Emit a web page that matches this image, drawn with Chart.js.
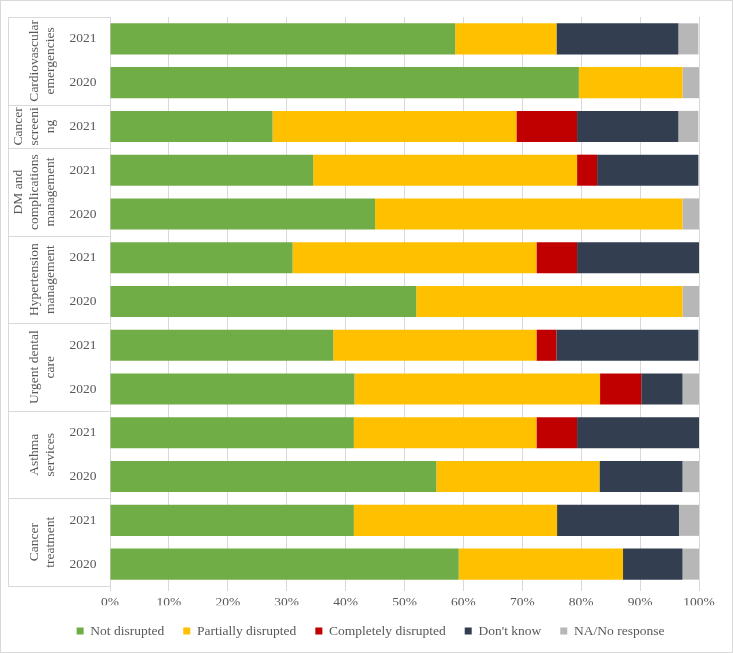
<!DOCTYPE html>
<html>
<head>
<meta charset="utf-8">
<script src="https://cdn.jsdelivr.net/npm/chart.js@4.4.1/dist/chart.umd.min.js"></script>
<style>
html,body{margin:0;padding:0;background:#fff;}
#wrap{width:733px;height:653px;}
</style>
</head>
<body>
<div id="wrap"><canvas id="c" width="733" height="653"></canvas></div>
<script>
// ---- data ----
const groupLabels = [
  ['Cardiovascular','emergencies'],
  ['Cancer','screeni','ng'],
  ['DM and','complications','management'],
  ['Hypertension','management'],
  ['Urgent dental','care'],
  ['Asthma','services'],
  ['Cancer','treatment']
];
const groupSizes = [2,1,2,2,2,2,2];
const years = ['2021','2020','2021','2021','2020','2021','2020','2021','2020','2021','2020','2021','2020'];
const seriesNames = ['Not disrupted','Partially disrupted','Completely disrupted',"Don't know",'NA/No response'];
const notDisrupted = [58.6, 79.6, 27.6, 34.5, 45.0, 31.0, 52.0, 37.9, 41.5, 41.4, 55.4, 41.4, 59.2];
const partiallyDisrupted = [17.2, 17.6, 41.4, 44.8, 52.2, 41.4, 45.2, 34.5, 41.7, 31.0, 27.7, 34.5, 27.9];
const completelyDisrupted = [0, 0, 10.3, 3.4, 0, 6.9, 0, 3.4, 7.0, 6.9, 0, 0, 0];
const dontKnow = [20.7, 0, 17.2, 17.2, 0, 20.7, 0, 24.1, 7.0, 20.7, 14.1, 20.7, 10.1];
const naNoResponse = [3.4, 2.8, 3.4, 0, 2.8, 0, 2.8, 0, 2.8, 0, 2.8, 3.4, 2.8];
const xTicks = [0,10,20,30,40,50,60,70,80,90,100];
const colors = ['#70AD47','#FFC000','#C00000','#333F50','#B7B7B7'];

const FONT = '"Liberation Serif", "Times New Roman", serif';
const TXT = '#595959';
const GRID = '#D9D9D9';

const tablePlugin = {
  id: 'tablePlugin',
  afterDraw(chart) {
    const ctx = chart.ctx;
    const y = chart.scales.y;
    const ca = chart.chartArea;
    const left = 8, right = ca.left;
    ctx.save();
    // outer border
    ctx.strokeStyle = GRID;
    ctx.lineWidth = 1;
    ctx.strokeRect(0.5, 0.5, 732, 652);
    // table lines
    ctx.beginPath();
    ctx.moveTo(left + 0.5, ca.top);
    ctx.lineTo(left + 0.5, ca.bottom);
    const hline = yy => { const p = Math.round(yy) + 0.5; ctx.moveTo(left, p); ctx.lineTo(right, p); };
    hline(ca.top);
    hline(ca.bottom);
    let idx = 0;
    const centers = [];
    groupSizes.forEach((n, g) => {
      const first = idx, last = idx + n - 1;
      centers.push((y.getPixelForValue(first) + y.getPixelForValue(last)) / 2);
      if (last < years.length - 1) {
        hline((y.getPixelForValue(last) + y.getPixelForValue(last + 1)) / 2);
      }
      idx += n;
    });
    ctx.stroke();
    // years
    ctx.fillStyle = TXT;
    ctx.font = '13.5px ' + FONT;
    ctx.textAlign = 'center';
    ctx.textBaseline = 'middle';
    years.forEach((yr, i) => ctx.fillText(yr, 83, y.getPixelForValue(i)));
    // group labels rotated
    groupLabels.forEach((lines, g) => {
      const n = lines.length;
      lines.forEach((ln, i) => {
        const lx = 50 - (n - 1 - i) * 16;
        ctx.save();
        ctx.translate(lx, centers[g]);
        ctx.rotate(-Math.PI / 2);
        ctx.fillText(ln, 0, 0);
        ctx.restore();
      });
    });
    ctx.restore();
  }
};

const dataArrays = [notDisrupted, partiallyDisrupted, completelyDisrupted, dontKnow, naNoResponse];

new Chart(document.getElementById('c'), {
  type: 'bar',
  data: {
    labels: years.map((y, i) => i),
    datasets: dataArrays.map((arr, i) => ({
      label: seriesNames[i],
      data: arr,
      backgroundColor: colors[i],
      borderWidth: 0,
      barPercentage: 0.71,
      categoryPercentage: 1.0
    }))
  },
  options: {
    indexAxis: 'y',
    responsive: false,
    animation: false,
    layout: { padding: { top: 17, left: 8, right: 0, bottom: 5.25 } },
    plugins: {
      tooltip: { enabled: false },
      legend: {
        position: 'bottom',
        labels: {
          boxWidth: 7,
          boxHeight: 7,
          padding: 19,
          color: TXT,
          font: { family: FONT, size: 13.5 }
        }
      }
    },
    scales: {
      x: {
        stacked: true,
        min: 0,
        max: 100,
        afterBuildTicks: s => { s.ticks = xTicks.map(v => ({ value: v })); },
        ticks: {
          color: TXT,
          padding: 3,
          maxRotation: 0,
          font: { family: FONT, size: 13.5 },
          callback: v => v + '%'
        },
        grid: { color: GRID, lineWidth: 1, tickLength: 5, drawOnChartArea: true },
        border: { display: false },
        afterFit: s => { s.height = 19.25; }
      },
      y: {
        stacked: true,
        type: 'category',
        ticks: { display: false },
        grid: { display: false },
        border: { display: false },
        afterFit: s => { s.width = 102; }
      },
      yR: {
        type: 'linear',
        position: 'right',
        display: true,
        ticks: { display: false },
        grid: { display: false },
        border: { display: false },
        afterFit: s => { s.width = 34; }
      }
    }
  },
  plugins: [tablePlugin]
});
</script>
</body>
</html>
